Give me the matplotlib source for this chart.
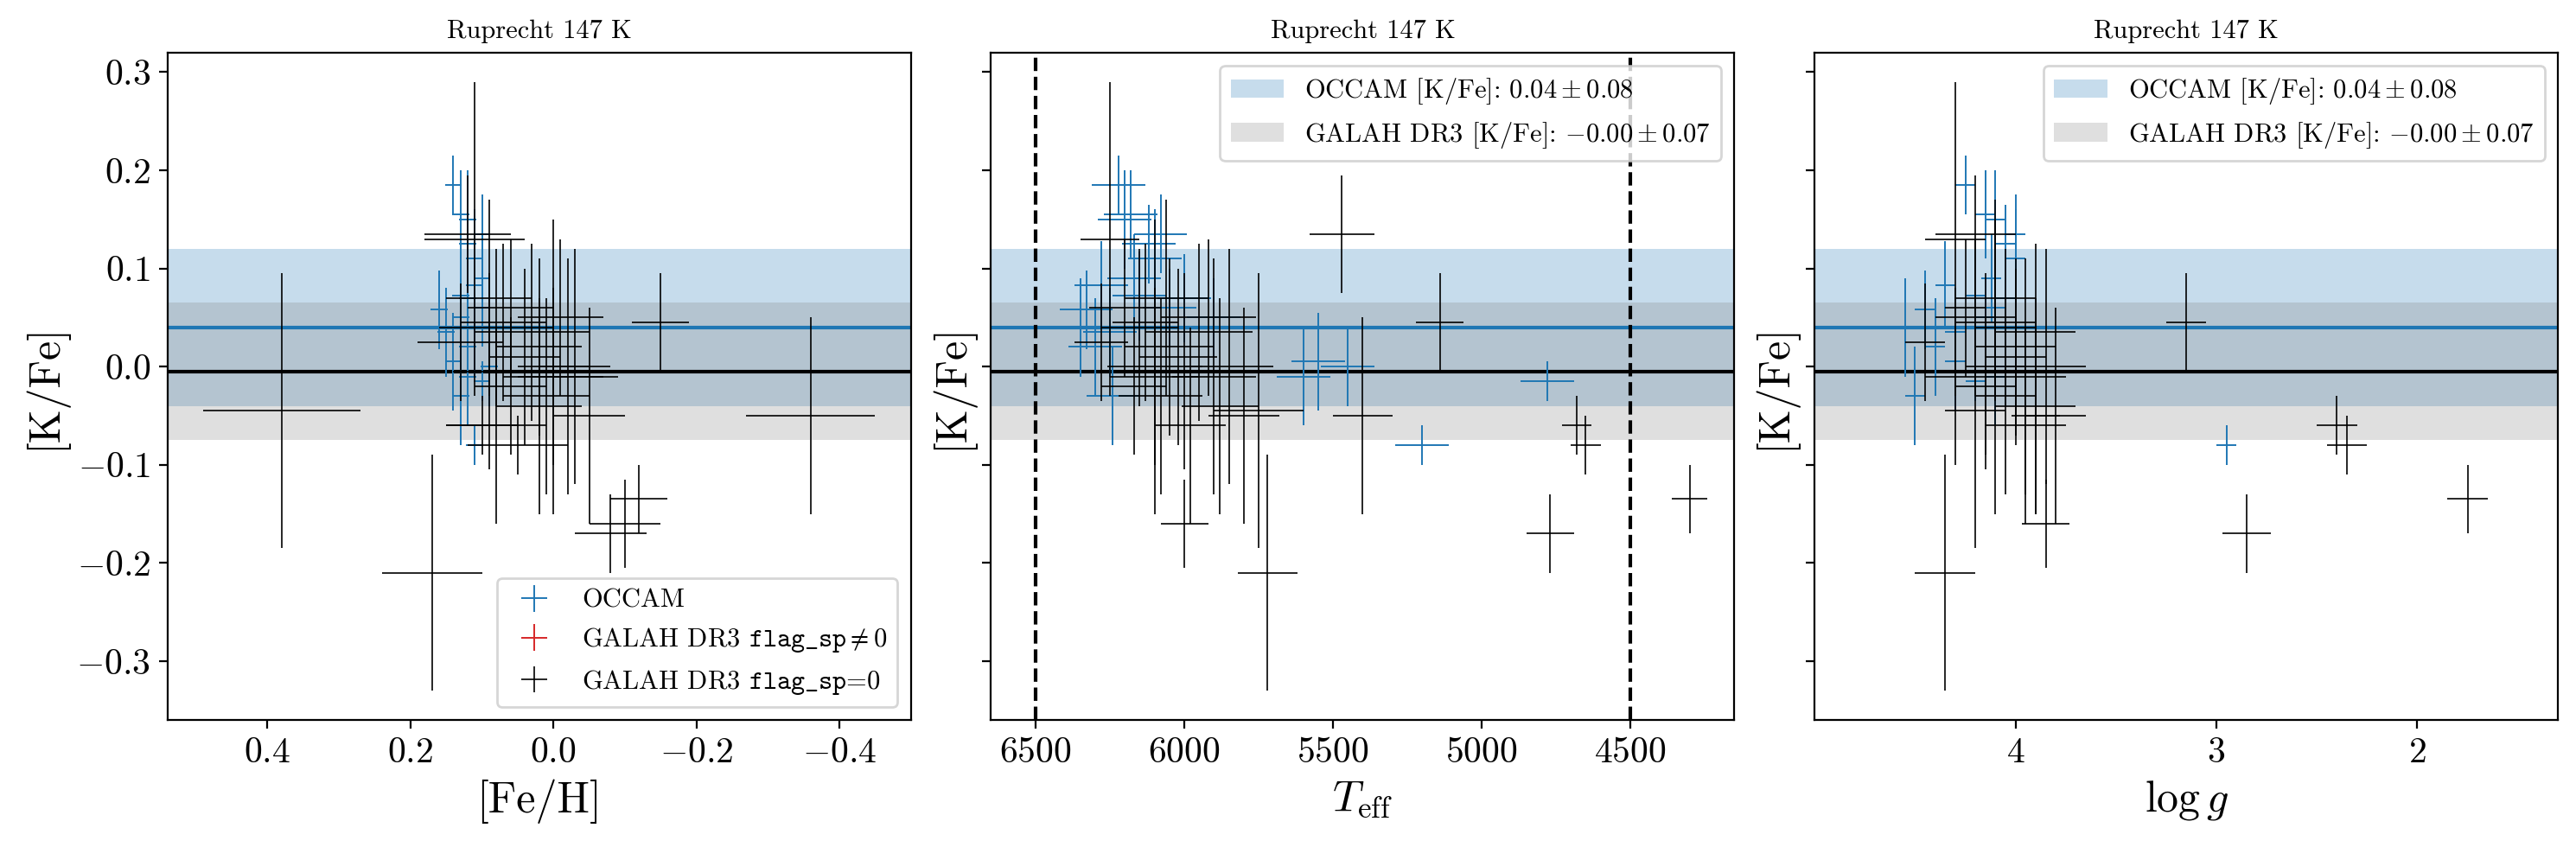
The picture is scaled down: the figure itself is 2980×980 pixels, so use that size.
import matplotlib
matplotlib.use('Agg')
import matplotlib.pyplot as plt
import numpy as np
from matplotlib.patches import Patch

plt.rcParams['font.family'] = 'serif'
plt.rcParams['font.serif'] = ['cmr10']
plt.rcParams['mathtext.fontset'] = 'cm'
plt.rcParams['axes.formatter.use_mathtext'] = True

# OCCAM stars
oc_feh = np.array([0.16, 0.15, 0.13, 0.12, 0.12, 0.11, 0.13, 0.10, 0.12, 0.14, 0.11, 0.10, 0.13, 0.12, 0.09, 0.11, 0.10, 0.14, 0.12, 0.11, 0.10, 0.13])
oc_efeh = np.full(oc_feh.size, 0.012)
oc_teff = np.array([6330, 6250, 6180, 6200, 6120, 6280, 6150, 6050, 6300, 6220, 6100, 6170, 6240, 5600, 5450, 5200, 4780, 5550, 6000, 6350, 6080, 5900])
oc_eteff = np.full(oc_teff.size, 90)
oc_logg = np.array([4.45, 4.3, 4.15, 4.1, 4.05, 4.35, 4.2, 4.1, 4.4, 4.25, 4.0, 4.12, 4.5, 4.1, 4.05, 2.95, 4.2, 4.3, 4.05, 4.55, 4.0, 4.15])
oc_elogg = np.full(oc_logg.size, 0.05)
oc_k = np.array([0.058, 0.035, 0.155, 0.15, 0.125, 0.083, 0.072, 0.06, 0.02, 0.185, 0.11, 0.09, -0.03, -0.01, 0.0, -0.08, -0.015, 0.005, 0.07, 0.04, 0.135, 0.05])
oc_ek = np.array([0.04, 0.045, 0.045, 0.05, 0.04, 0.045, 0.045, 0.04, 0.05, 0.03, 0.05, 0.045, 0.05, 0.05, 0.04, 0.02, 0.02, 0.05, 0.045, 0.05, 0.04, 0.04])

# GALAH DR3 stars with flag_sp = 0
ga_feh = np.array([0.38, -0.36, -0.15, -0.12, -0.08, 0.17, -0.10, 0.12, 0.10, 0.05, 0.08, 0.02, 0.0, -0.02, 0.06, 0.11, 0.09, 0.03, -0.05, 0.07, 0.01, -0.03, 0.13, 0.04, 0.08, -0.01, 0.06, 0.09, 0.0, 0.02])
ga_efeh = np.array([0.11, 0.09, 0.04, 0.04, 0.05, 0.07, 0.05, 0.06, 0.05, 0.07, 0.08, 0.06, 0.05, 0.07, 0.06, 0.07, 0.05, 0.08, 0.05, 0.06, 0.06, 0.05, 0.06, 0.05, 0.07, 0.06, 0.05, 0.06, 0.07, 0.06])
ga_teff = np.array([5750, 5400, 5140, 4300, 4770, 5720, 6000, 5470, 4680, 4650, 6150, 6050, 6100, 5900, 6200, 6250, 6000, 5950, 5800, 6130, 6080, 5850, 6280, 6020, 5980, 5920, 6170, 6060, 6100, 5880])
ga_eteff = np.array([150, 100, 80, 60, 80, 100, 80, 110, 50, 50, 130, 150, 160, 140, 120, 100, 170, 180, 120, 110, 140, 150, 90, 130, 120, 160, 110, 140, 150, 130])
ga_logg = np.array([4.2, 3.9, 3.15, 1.75, 2.85, 4.35, 3.85, 4.2, 2.4, 2.35, 4.05, 4.0, 4.1, 3.95, 4.25, 4.3, 4.15, 3.9, 3.8, 4.1, 4.05, 3.85, 4.45, 4.0, 3.95, 4.2, 4.15, 4.1, 4.3, 3.9])
ga_elogg = np.array([0.15, 0.12, 0.1, 0.1, 0.12, 0.15, 0.12, 0.2, 0.1, 0.1, 0.15, 0.2, 0.15, 0.2, 0.1, 0.15, 0.2, 0.2, 0.15, 0.2, 0.15, 0.2, 0.1, 0.15, 0.2, 0.2, 0.15, 0.2, 0.15, 0.2])
ga_k = np.array([-0.045, -0.05, 0.045, -0.135, -0.17, -0.21, -0.16, 0.135, -0.06, -0.08, 0.04, 0.02, 0.0, -0.01, 0.06, 0.13, -0.005, 0.035, -0.05, 0.045, -0.03, 0.0, 0.025, 0.01, -0.06, 0.05, -0.02, 0.07, -0.01, -0.04])
ga_ek = np.array([0.14, 0.1, 0.05, 0.035, 0.04, 0.12, 0.045, 0.06, 0.03, 0.03, 0.08, 0.09, 0.15, 0.12, 0.07, 0.16, 0.1, 0.09, 0.11, 0.08, 0.1, 0.12, 0.06, 0.09, 0.1, 0.08, 0.07, 0.1, 0.09, 0.11])

oc_mean, oc_std = 0.04, 0.08
ga_mean, ga_std = -0.005, 0.07

fig, axes = plt.subplots(1, 3, figsize=(14.9, 4.9), dpi=200, sharey=True)
xs = [(oc_feh, oc_efeh, ga_feh, ga_efeh), (oc_teff, oc_eteff, ga_teff, ga_eteff), (oc_logg, oc_elogg, ga_logg, ga_elogg)]
for i, ax in enumerate(axes):
    ox, oex, gx, gex = xs[i]
    ax.axhspan(oc_mean - oc_std, oc_mean + oc_std, color='C0', alpha=0.25, lw=0)
    ax.axhspan(ga_mean - ga_std, ga_mean + ga_std, color='grey', alpha=0.25, lw=0)
    ax.axhline(oc_mean, color='C0', lw=1.5)
    ax.axhline(ga_mean, color='k', lw=1.5)
    e1 = ax.errorbar(ox, oc_k, xerr=oex, yerr=oc_ek, fmt='none', ecolor='C0', lw=0.7)
    e2 = ax.errorbar([], [], xerr=[], yerr=[], fmt='none', ecolor='C3', lw=0.7)
    e3 = ax.errorbar(gx, ga_k, xerr=gex, yerr=ga_ek, fmt='none', ecolor='k', lw=0.7, alpha=0.85)
    ax.set_title('Ruprecht 147 K', fontsize=11)
    ax.set_ylabel('[K/Fe]', fontsize=18)
    ax.tick_params(labelsize=15, direction='out')
    if i == 0:
        ax.legend([e1, e2, e3], ['OCCAM', r'GALAH DR3 $\mathtt{flag\_sp} \neq 0$', r'GALAH DR3 $\mathtt{flag\_sp}$=0'],
                  loc='lower right', fontsize=11)
    else:
        ax.legend(handles=[Patch(color='C0', alpha=0.25, lw=0), Patch(color='grey', alpha=0.25, lw=0)],
                  labels=[r'OCCAM [K/Fe]: $0.04 \pm 0.08$', r'GALAH DR3 [K/Fe]: $-0.00 \pm 0.07$'],
                  loc='upper right', fontsize=11)

axes[0].set_xlim(0.54, -0.5)
axes[0].set_ylim(-0.36, 0.32)
axes[0].set_xlabel('[Fe/H]', fontsize=18)
axes[1].set_xlim(6650, 4150)
axes[1].set_xticks([6500, 6000, 5500, 5000, 4500])
axes[1].axvline(6500, color='k', ls='--', lw=1.5)
axes[1].axvline(4500, color='k', ls='--', lw=1.5)
axes[1].set_xlabel(r'$T_\mathrm{eff}$', fontsize=18)
axes[2].set_xlim(5.0, 1.3)
axes[2].set_xticks([4, 3, 2])
axes[2].set_xlabel(r'$\log g$', fontsize=18)

fig.subplots_adjust(left=0.065, right=0.993, bottom=0.15, top=0.938, wspace=0.108)
fig.savefig('out.png')
